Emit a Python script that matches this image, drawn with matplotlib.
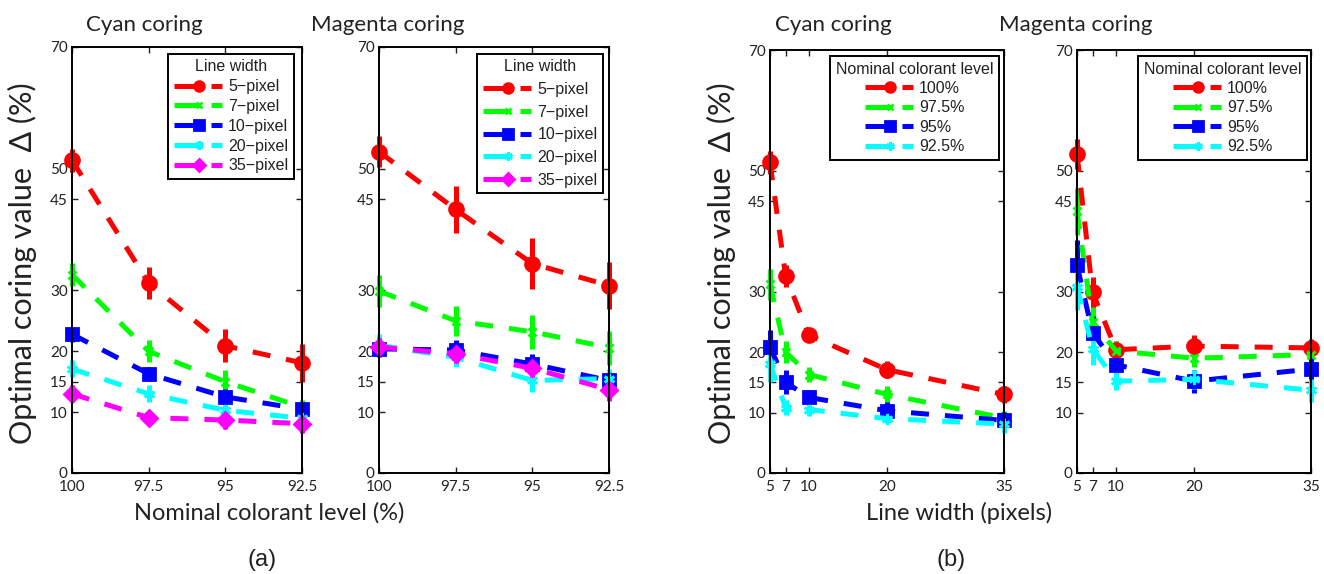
import matplotlib
matplotlib.use("Agg")
import matplotlib.pyplot as plt
from matplotlib import font_manager
from matplotlib.lines import Line2D
from matplotlib.legend_handler import HandlerBase

# --- data (optimal coring value in %, rows = line width, cols = colorant level) ---
levels = [100, 97.5, 95, 92.5]
level_labels = ["100", "97.5", "95", "92.5"]
level_legend = ["100%", "97.5%", "95%", "92.5%"]
widths = [5, 7, 10, 20, 35]
width_legend = ["5\u2212pixel", "7\u2212pixel", "10\u2212pixel", "20\u2212pixel", "35\u2212pixel"]
y_ticks = [0, 10, 15, 20, 30, 45, 50, 70]

cyan_delta = [
    [51.4, 31.2, 20.9, 18.1],
    [32.6, 20.0, 15.0, 10.8],
    [22.8, 16.3, 12.5, 10.5],
    [17.1, 13.0, 10.3, 9.0],
    [13.0, 9.1, 8.7, 8.1],
]
cyan_err = [
    [1.9, 2.6, 2.7, 3.1],
    [1.9, 1.8, 2.0, 1.2],
    [1.2, 1.2, 1.3, 1.1],
    [1.4, 1.4, 1.4, 0.8],
    [1.4, 1.1, 1.4, 1.5],
]
magenta_delta = [
    [52.8, 43.3, 34.4, 30.8],
    [29.9, 25.0, 23.2, 20.6],
    [20.4, 20.2, 17.9, 15.2],
    [21.0, 19.0, 15.2, 15.5],
    [20.7, 19.6, 17.2, 13.7],
]
magenta_err = [
    [2.5, 3.9, 4.2, 3.8],
    [2.6, 2.5, 2.8, 2.8],
    [1.4, 1.6, 1.6, 1.5],
    [1.8, 1.5, 1.9, 1.6],
    [1.5, 1.5, 1.8, 1.9],
]

colors = ["#FF0000", "#00FF00", "#0000FF", "#00FFFF", "#FF00FF"]
markers = ["o", "x", "s", (6, 2, 0), "D"]
msizes = [10, 6, 9, 8, 8]
legend_msizes = [7, 5, 7, 6, 6]
LW = 3.6

installed = {f.name for f in font_manager.fontManager.ttflist}
NARROW = "Liberation Sans Narrow" if "Liberation Sans Narrow" in installed else "Lato"
REGULAR = "Liberation Sans" if "Liberation Sans" in installed else "DejaVu Sans"
plt.rcParams["font.family"] = [NARROW, "DejaVu Sans"]
plt.rcParams["text.color"] = "#222222"


class ErrbarHandler(HandlerBase):
    # matlab-ish legend entry: solid line ending in marker, then a single dash
    def create_artists(self, legend, orig_handle, xdescent, ydescent,
                       width, height, fontsize, trans):
        y = height / 2 - ydescent
        x0 = -xdescent
        c = orig_handle.get_color()
        solid = Line2D([x0, x0 + 0.5 * width], [y, y], color=c, lw=LW,
                       solid_capstyle="butt")
        mark = Line2D([x0 + 0.52 * width], [y], color=c, linestyle="none",
                      marker=orig_handle.get_marker(),
                      markersize=orig_handle.get_markersize(), mew=2)
        dash = Line2D([x0 + 0.78 * width, x0 + width], [y, y], color=c, lw=LW,
                      solid_capstyle="butt")
        for a in (solid, mark, dash):
            a.set_transform(trans)
        return [solid, mark, dash]


def draw_series(ax, x, y, err, i):
    eb = ax.errorbar(x, y, yerr=err, color=colors[i], marker=markers[i],
                     ms=msizes[i], mew=2, ls="--", lw=LW, elinewidth=LW, capsize=0)
    eb.lines[0].set_dashes((3.6, 3.2))
    for child in eb.get_children():
        child.set_clip_on(False)


def style_axes(ax):
    ax.set_ylim(0, 70)
    ax.set_yticks(y_ticks)
    ax.tick_params(direction="in", top=True, right=True, length=4, width=1,
                   labelsize=11, pad=3, colors="#222222")
    ax.tick_params(axis="x", pad=5)
    for s in ax.spines.values():
        s.set_linewidth(1.4)


def add_legend(ax, title, labels, anchor, spacing):
    handles = [Line2D([], [], color=colors[i], marker=markers[i], markersize=legend_msizes[i])
               for i in range(len(labels))]
    leg = ax.legend(handles, labels, title=title, loc="upper right", bbox_to_anchor=anchor,
                    borderaxespad=0, handler_map={Line2D: ErrbarHandler()},
                    handlelength=3.0, handletextpad=0.4, labelspacing=spacing,
                    fancybox=False, framealpha=1, edgecolor="black",
                    prop={"family": REGULAR, "size": 11.5},
                    title_fontproperties={"family": REGULAR, "size": 11.5},
                    borderpad=0.35)
    leg.get_frame().set_linewidth(1.4)


fig = plt.figure(figsize=(13.24, 5.74), dpi=100)
W, H = 1324.0, 574.0

def axes_px(x0, x1, y0, y1):
    return fig.add_axes([x0 / W, 1 - y1 / H, (x1 - x0) / W, (y1 - y0) / H])

# (a) against nominal colorant level, one line per line width
for k, (delta, err) in enumerate([(cyan_delta, cyan_err), (magenta_delta, magenta_err)]):
    ax = axes_px(72, 302, 47, 473) if k == 0 else axes_px(379, 609, 47, 473)
    for i in range(len(widths)):
        draw_series(ax, levels, delta[i], err[i], i)
    ax.set_xlim(100, 92.5)
    ax.set_xticks(levels)
    ax.set_xticklabels(level_labels)
    style_axes(ax)
    if k == 0:
        add_legend(ax, "Line width", width_legend, (0.965, 0.984), 0.3)
    else:
        add_legend(ax, "Line width", width_legend, (0.974, 0.984), 0.48)

# (b) against line width, one line per colorant level
for k, (delta, err) in enumerate([(cyan_delta, cyan_err), (magenta_delta, magenta_err)]):
    ax = axes_px(770, 1004, 50, 473) if k == 0 else axes_px(1077, 1311, 50, 473)
    for j in range(len(levels)):
        draw_series(ax, widths, [row[j] for row in delta], [row[j] for row in err], j)
    ax.set_xlim(5, 35)
    ax.set_xticks(widths)
    style_axes(ax)
    anchor = (0.979, 0.986) if k == 0 else (0.983, 0.986)
    add_legend(ax, "Nominal colorant level", level_legend, anchor, 0.28)

# titles and shared labels
for xc, txt in [(144, "Cyan coring"), (388, "Magenta coring"),
                (833, "Cyan coring"), (1076, "Magenta coring")]:
    fig.text(xc / W, 1 - 25 / H, txt, ha="center", va="center", fontsize=16)

fig.text(22 / W, 1 - 263 / H, "Optimal coring value  \u0394 (%)", rotation=90,
         ha="center", va="center", fontsize=22)
fig.text(721 / W, 1 - 263 / H, "Optimal coring value  \u0394 (%)", rotation=90,
         ha="center", va="center", fontsize=22)
fig.text(269 / W, 1 - 513 / H, "Nominal colorant level (%)", ha="center", va="center", fontsize=17)
fig.text(959 / W, 1 - 513 / H, "Line width (pixels)", ha="center", va="center", fontsize=17)
fig.text(262 / W, 1 - 560 / H, "(a)", ha="center", va="center", fontsize=17,
         family=REGULAR)
fig.text(951 / W, 1 - 560 / H, "(b)", ha="center", va="center", fontsize=17,
         family=REGULAR)

fig.savefig("out.png", dpi=100)
